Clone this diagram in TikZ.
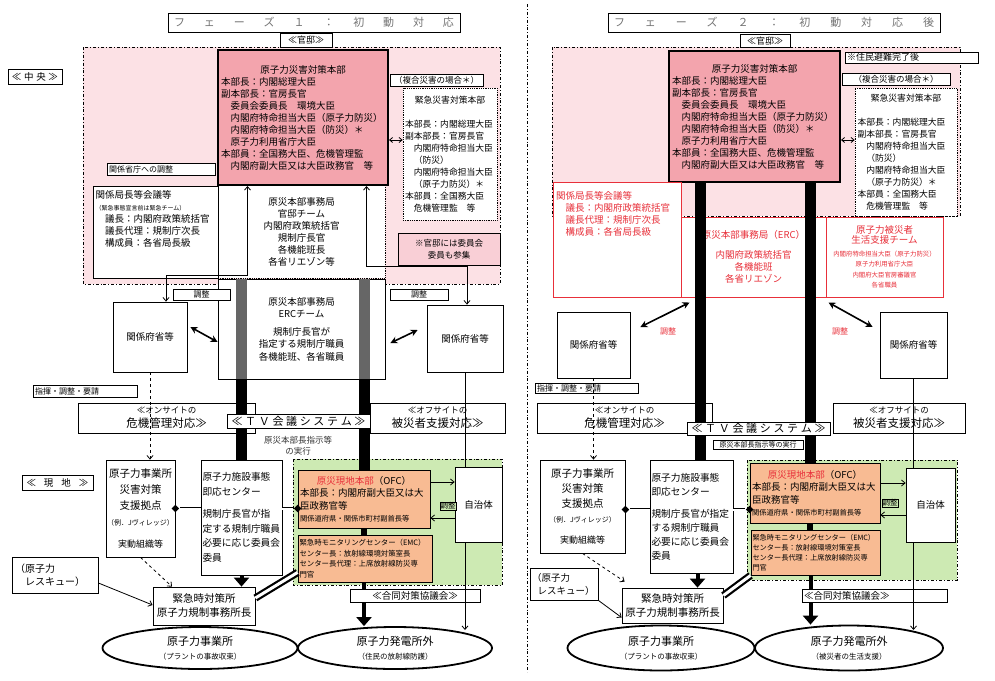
\documentclass[tikz,border=0pt]{standalone}
\usepackage{fontspec}
\setmainfont{Noto Sans CJK JP}
\usetikzlibrary{positioning, arrows.meta, shapes.geometric}
\definecolor{kanteipink}{HTML}{FCE1E5}
\definecolor{honbupink}{HTML}{F3A4AD}
\definecolor{sanshupink}{HTML}{F9CFD6}
\definecolor{genchigreen}{HTML}{CDEAB3}
\definecolor{ofcorange}{HTML}{F8BB93}
\definecolor{phasered}{HTML}{E8303A}
\newcommand{\fz}[2]{\fontsize{#1}{#2}\selectfont}

\begin{document}
\begin{tikzpicture}[x=1pt, y=-1pt, line width=0.8pt,
    box/.style={draw, fill=white, inner sep=1.5pt, align=center, font=\fz{9.5}{12}},
    sz/.style 2 args={minimum width=#1, minimum height=#2},
    tagbox/.style={draw, fill=white, inner sep=0.5pt, font=\fz{8}{9}},
    redbox/.style={draw=phasered, fill=white, text=phasered, line width=1pt, inner sep=1.5pt, align=center, font=\fz{9.5}{12}},
    region/.style={dash dot, line width=0.9pt},
    bar/.style={line width=11pt},
    lead/.style={-{Straight Barb[length=3.5pt,width=6pt]}},
    twoway/.style={{Stealth[length=7pt,width=7pt]}-{Stealth[length=7pt,width=7pt]}, line width=1.6pt},
    fat/.style={line width=4pt, -{Triangle[length=9pt,width=15pt]}},
    dbl/.style={double, double distance=2pt, line width=0.8pt},
    dbthick/.style={double, double distance=3pt, line width=2.2pt},
    dmd/.style={diamond, fill, inner sep=0pt, minimum size=8pt},
    field/.style={ellipse, draw, line width=1.8pt, fill=white, align=center, inner sep=0pt, font=\fz{11}{14}}
  ]
\useasboundingbox (0,0) rectangle (995,680);

% backgrounds
\draw[region, fill=kanteipink] (83,47) rectangle (500,284);
\draw[region, fill=genchigreen] (293,459) rectangle (502,585);
\draw[region, fill=kanteipink] (552,47) rectangle (960,216);
\draw[region, fill=genchigreen] (747,460) rectangle (957,580);
\draw[region] (527,4) -- (527,672);

% ---------------- Phase 1 ----------------
\node[draw, sz={292}{19}, inner sep=0pt, text=black!55, font=\fz{11}{12}] (hdrL) at (314,22.5)
  {\makebox[280pt][s]{フ\hfill ェ\hfill ー\hfill ズ\hfill １\hfill ：\hfill 初\hfill 動\hfill 対\hfill 応}};
\node[tagbox, sz={52}{14}, font=\fz{9}{10}] (kanteiL) at (306,40) {≪官邸≫};
\node[tagbox, sz={54}{15}, font=\fz{9.5}{10}] (chuo) at (35,77) {\makebox[46pt][s]{≪\hfill 中\hfill 央\hfill ≫}};

% kantei
\node[box, sz={167}{93}, densely dotted] (teamL) at (301.5,231.5)
  {原災本部事務局\\官邸チーム\\内閣府政策統括官\\規制庁長官\\各機能班長\\各省リエゾン等};
\node[box, sz={170}{135}, fill=honbupink, line width=2pt, align=left, text width=164pt] (hqL) at (303,117.5)
  {\hfill 原子力災害対策本部\hfill\mbox{}\\本部長：内閣総理大臣\\副本部長：官房長官\\　委員会委員長　環境大臣\\　内閣府特命担当大臣（原子力防災）\\　内閣府特命担当大臣（防災）＊\\　原子力利用省庁大臣\\本部員：全国務大臣、危機管理監\\　内閣府副大臣又は大臣政務官　等};
\node[tagbox, sz={93}{12}, font=\fz{8.5}{10}] (fukugoL) at (436.5,80) {（複合災害の場合＊）};
\node[box, sz={94}{132}, densely dotted, align=left, text width=90pt, font=\fz{8.8}{12}] (kinkyuL) at (450,154)
  {\hfill 緊急災害対策本部\hfill\mbox{}\\[12pt]本部長：内閣総理大臣\\副本部長：官房長官\\　内閣府特命担当大臣\\　（防災）\\　内閣府特命担当大臣\\　（原子力防災）＊\\本部員：全国務大臣\\　危機管理監　等};
\node[box, sz={102}{32}, fill=sanshupink, font=\fz{8.5}{12}] (sanshuL) at (449,249) {※官邸には委員会\\委員も参集};
\node[tagbox, sz={108}{12}, text width=104pt, align=left] (kanchouL) at (161,169) {関係省庁への調整};
\node[box, sz={125}{92}, align=left, text width=120pt] (kyokuchoL) at (155.5,232)
  {関係局長等会議等\\{\fz{6}{7}（緊急事態宣言前は緊急チーム）}\\　議長：内閣府政策統括官\\　議長代理：規制庁次長\\　構成員：各省局長級\\[16pt]\mbox{}};

% ERC
\node[box, sz={167}{100}, font=\fz{9.5}{12.5}] (ercL) at (301.5,329)
  {原災本部事務局\\ERCチーム\\[5pt]規制庁長官が\\指定する規制庁職員\\各機能班、各省職員};
\node[tagbox, sz={57}{11}] (chouseiL1) at (201.5,294.5) {調整};
\node[tagbox, sz={58}{11}] (chouseiL2) at (419,294.5) {調整};
\node[box, sz={74}{70}] (kfL1) at (150,337) {関係府省等};
\node[box, sz={76}{67}] (kfL2) at (465,338.5) {関係府省等};
\node[tagbox, sz={104}{12}, text width=100pt, align=left] (shikiL) at (85,391) {指揮・調整・要請};

% on-site / off-site
\node[box, sz={177}{30}, inner sep=0pt, font=\fz{11.5}{14}] (onsiteL) at (166.5,418) {{\fz{8.5}{10}≪オンサイトの}\\危機管理対応≫};
\node[box, sz={135}{30}, inner sep=0pt, font=\fz{11.5}{14}] (offsiteL) at (437.5,418) {{\fz{8.5}{10}≪オフサイトの}\\被災者支援対応≫};
\node[font=\fz{8.5}{11}, align=center, text=black!80] (jikkouL) at (298,446) {原災本部長指示等\\の実行};

% local
\node[tagbox, sz={71}{15}, font=\fz{9.5}{10}] (genchi) at (57.5,482.5) {\makebox[62pt][s]{≪\hfill 現\hfill 地\hfill ≫}};
\node[box, sz={69}{97}, inner sep=0pt, font=\fz{10.5}{16}] (shienL) at (140.5,508.5)
  {原子力事業所\\災害対策\\支援拠点\\{\fz{7}{9}（例．Jヴィレッジ）}\\[6pt]{\fz{9}{11}実動組織等}};
\node[box, sz={81}{115}, align=left, text width=78pt, inner sep=1pt, font=\fz{9.7}{14.5}] (sokuouL) at (241.5,517.5)
  {原子力施設事態\\即応センター\\[8pt]規制庁長官が指\\定する規制庁職員\\必要に応じ委員会\\委員};
\node[box, sz={132}{58}, fill=ofcorange, align=left, text width=128pt, font=\fz{9.5}{12.5}] (ofcL) at (364,499)
  {\hfill\textcolor{phasered}{原災現地本部}（OFC）\hfill\mbox{}\\本部長：内閣府副大臣又は大\\臣政務官等\\{\fz{7.3}{9}関係道府県・関係市町村副首長等}};
\node[box, sz={47}{75}] (jichiL) at (478.5,504.5) {自治体};
\node[tagbox, fill=genchigreen, font=\fz{7.5}{8}] (chouseiL3) at (448,506) {調整};
\node[box, sz={134}{47}, fill=ofcorange, align=left, text width=131pt, inner sep=1pt, font=\fz{7.4}{10.5}] (emcL) at (365,558.5)
  {緊急時モニタリングセンター（EMC）\\センター長：放射線環境対策室長\\センター長代理：上席放射線防災専\\門官};
\node[box, sz={130}{13}, inner sep=0pt] (goudouL) at (415,595.5) {≪合同対策協議会≫};
\node[box, sz={86}{36}, align=left, text width=80pt, font=\fz{10}{13}] (rescueL) at (55,575) {（原子力\\\hspace*{1em}レスキュー）};
\node[box, sz={102}{38}, font=\fz{10.5}{14}] (kinkyusyoL) at (204,606) {緊急時対策所\\原子力規制事務所長};
\node[field, sz={195}{42}] (jigyoL) at (200,648) {原子力事業所\\{\fz{7.5}{9}（プラントの事故収束）}};
\node[field, sz={194}{42}] (gaiL) at (395,648) {原子力発電所外\\{\fz{7.5}{9}（住民の放射線防護）}};
\node[dmd] (dotL1) at (shienL.east) {};
\node[dmd] (dotL2) at (ofcL.west |- dotL1) {};

% ---------------- Phase 2 ----------------
\node[draw, sz={332}{19}, inner sep=0pt, text=black!55, font=\fz{11}{12}] (hdrR) at (774,22.5)
  {\makebox[320pt][s]{フ\hfill ェ\hfill ー\hfill ズ\hfill ２\hfill ：\hfill 初\hfill 動\hfill 対\hfill 応\hfill 後}};
\node[tagbox, sz={50}{13}, font=\fz{9}{10}] (kanteiR) at (765,41) {≪官邸≫};

\node[box, sz={171}{131}, fill=honbupink, line width=2pt, align=left, text width=165pt] (hqR) at (754.5,116.5)
  {\hfill 原子力災害対策本部\hfill\mbox{}\\本部長：内閣総理大臣\\副本部長：官房長官\\　委員会委員長　環境大臣\\　内閣府特命担当大臣（原子力防災）\\　内閣府特命担当大臣（防災）＊\\　原子力利用省庁大臣\\本部員：全国務大臣、危機管理監\\　内閣府副大臣又は大臣政務官　等};
\node[tagbox, sz={133}{11}, text width=129pt, align=left, font=\fz{9}{10}] (kanryoR) at (911.5,57.5) {※住民避難完了後};
\node[tagbox, sz={108}{12}, font=\fz{8.5}{10}] (fukugoR) at (896,79) {（複合災害の場合＊）};
\node[box, sz={102}{128}, densely dotted, align=left, text width=97pt, font=\fz{8.8}{12}] (kinkyuR) at (906,152)
  {\hfill 緊急災害対策本部\hfill\mbox{}\\[12pt]本部長：内閣総理大臣\\副本部長：官房長官\\　内閣府特命担当大臣\\　（防災）\\　内閣府特命担当大臣\\　（原子力防災）＊\\本部員：全国務大臣\\　危機管理監　等};

\node[redbox, sz={128}{115}, align=left, text width=122pt] (kyokuchoR) at (617,239.5)
  {関係局長等会議等\\　議長：内閣府政策統括官\\　議長代理：規制庁次長\\　構成員：各省局長級\\[40pt]\mbox{}};
\node[redbox, sz={145}{80}] (ercR) at (753.5,257) {原災本部事務局（ERC）\\[8pt]内閣府政策統括官\\各機能班\\各省リエゾン};
\node[redbox, sz={117}{80}, inner sep=1pt, font=\fz{6.4}{10.5}] (seikatsuR) at (884.5,257)
  {{\fz{9.5}{12}原子力被災者}\\{\fz{9.5}{12}生活支援チーム}\\[2pt]内閣府特命担当大臣（原子力防災）\\原子力利用省庁大臣\\内閣府大臣官房審議官\\各省職員};

\node[box, sz={73}{66}] (kfR1) at (593.5,345) {関係府省等};
\node[box, sz={67}{66}] (kfR2) at (913.5,345) {関係府省等};
\node[text=phasered, font=\fz{8}{9}] (chouseiR1) at (668,331) {調整};
\node[text=phasered, font=\fz{8}{9}] (chouseiR2) at (840,331) {調整};
\node[tagbox, sz={103}{10}, text width=99pt, align=left] (shikiR) at (586.5,388) {指揮・調整・要請};

\node[box, sz={175}{30}, inner sep=0pt, font=\fz{11.5}{14}] (onsiteR) at (624.5,418) {{\fz{8.5}{10}≪オンサイトの}\\危機管理対応≫};
\node[box, sz={132}{30}, inner sep=0pt, font=\fz{11.5}{14}] (offsiteR) at (899,418) {{\fz{8.5}{10}≪オフサイトの}\\被災者支援対応≫};
\node[tagbox, sz={90}{9}, font=\fz{7}{8}] (jikkouR) at (758,444.5) {原災本部長指示等の実行};

\node[box, sz={85}{93}, inner sep=0pt, font=\fz{10.5}{15}] (shienR) at (582.5,506.5)
  {原子力事業所\\災害対策\\支援拠点\\{\fz{7}{9}（例．Jヴィレッジ）}\\[6pt]{\fz{9}{11}実動組織等}};
\node[box, sz={83}{113}, align=left, text width=80pt, inner sep=1pt, font=\fz{9.7}{14}] (sokuouR) at (691.5,516.5)
  {原子力施設事態\\即応センター\\[8pt]規制庁長官が指定\\する規制庁職員\\必要に応じ委員会\\委員};
\node[box, sz={130}{60}, fill=ofcorange, align=left, text width=126pt, font=\fz{9.5}{12.5}] (ofcR) at (815,493)
  {\hfill\textcolor{phasered}{原災現地本部}（OFC）\hfill\mbox{}\\本部長：内閣府副大臣又は大\\臣政務官等\\{\fz{7.3}{9}関係道府県・関係市町村副首長等}};
\node[box, sz={49}{74}] (jichiR) at (930.5,505) {自治体};
\node[tagbox, fill=genchigreen, font=\fz{7.5}{8}] (chouseiR3) at (890,503) {調整};
\node[box, sz={129}{45}, fill=ofcorange, align=left, text width=126pt, inner sep=1pt, font=\fz{7.2}{10.2}] (emcR) at (815.5,552.5)
  {緊急時モニタリングセンター（EMC）\\センター長：放射線環境対策室長\\センター長代理：上席放射線防災専\\門官};
\node[box, sz={145}{13}, inner sep=0pt, text width=141pt, align=left] (goudouR) at (874.5,595.5) {≪合同対策協議会≫};
\node[box, sz={68}{32}, align=left, text width=64pt, font=\fz{9.5}{13}] (rescueR) at (564,584) {（原子力\\\hspace*{0.6em}レスキュー）};
\node[box, sz={101}{35}, font=\fz{10.5}{14}] (kinkyusyoR) at (672.5,605.5) {緊急時対策所\\原子力規制事務所長};
\node[field, sz={187}{45}] (jigyoR) at (661,648) {原子力事業所\\{\fz{7.5}{9}（プラントの事故収束）}};
\node[field, sz={188}{45}] (gaiR) at (849,648) {原子力発電所外\\{\fz{7.5}{9}（被災者の生活支援）}};
\node[dmd] (dotR1) at ([yshift=-3pt]shienR.east) {};
\node[dmd] (dotR2) at (ofcR.west |- dotR1) {};

% ---------------- connectors, phase 1 ----------------
\coordinate (bendL) at (166,275);
\coordinate (bendR) at (467,266);
\draw[{Straight Barb[length=3.5pt,width=6pt]}-{Straight Barb[length=3.5pt,width=6pt]}]
  ([xshift=-55.5pt]hqL.south) |- (bendL) -- ([xshift=16pt]kfL1.north);
\draw[{Straight Barb[length=3.5pt,width=6pt]}-{Straight Barb[length=3.5pt,width=6pt]}]
  ([xshift=63.5pt]hqL.south) |- (bendR) -- (kfL2.north -| bendR);
\draw[{Straight Barb[length=3pt,width=5pt]}-{Straight Barb[length=3pt,width=5pt]}]
  ([yshift=14pt]kinkyuL.west -| hqL.east) -- ([yshift=14pt]kinkyuL.west);
\draw[twoway] ([shift={(3pt,10pt)}]kfL1.east) -- ([yshift=-13pt]ercL.west);
\draw[twoway] ([shift={(5pt,-14pt)}]ercL.east) -- ([shift={(-9pt,8.5pt)}]kfL2.west);

% TV lines
\draw[bar, black!60] ([xshift=-60.5pt]ercL.north) -- ([xshift=-60.5pt]ercL.south);
\draw[bar] ([xshift=-60.5pt]ercL.south) -- ([xshift=-60.5pt]ercL.south |- sokuouL.north);
\draw[bar, black!60] ([xshift=62.5pt]ercL.north) -- ([xshift=62.5pt]ercL.south);
\draw[bar] ([xshift=62.5pt]ercL.south) -- ([xshift=62.5pt]ercL.south |- ofcL.north);
\draw[line width=6pt] (ofcL.south) -- (ofcL.south |- emcL.north);
\draw[line width=4pt] (ofcL.south |- emcL.south) -- (ofcL.south |- goudouL.north);
\draw[fat] (ofcL.south |- goudouL.south) -- (ofcL.south |- gaiL.north);
\draw[fat] (sokuouL.south) -- (sokuouL.south |- kinkyusyoL.north);
\node[draw, fill=white, sz={143}{14}, inner sep=0pt, font=\fz{11}{12}] (tvL) at (298.5,421)
  {\makebox[134pt][s]{≪\hfill Ｔ\hfill Ｖ\hfill 会\hfill 議\hfill シ\hfill ス\hfill テ\hfill ム\hfill ≫}};

\draw[dashed, lead] (kfL1.south) -- (kfL1.south |- shienL.north);
\draw (kfL2.south) -- (kfL2.south |- jichiL.north);
\coordinate (gaiLin) at (465,630);
\draw[lead] (kfL2.south |- jichiL.south) -- (gaiLin);
\draw[lead] ([yshift=17pt]ofcL.east) -- ([yshift=17pt]ofcL.east -| jichiL.west);
\draw[lead] ([yshift=-19pt]ofcL.east -| jichiL.west) -- ([yshift=-19pt]ofcL.east);
\draw[dbl] (dotL1) -- (dotL1 -| sokuouL.west);
\draw[dbl] (dotL2 -| sokuouL.east) -- (dotL2);
\draw[dbthick] ([yshift=10pt]emcL.south west) -- ([yshift=8pt]kinkyusyoL.east);
\draw[dashed, lead] (shienL.south) -- ([xshift=-32pt]kinkyusyoL.north);
\draw[lead] ([yshift=-8pt]rescueL.east) -- ([yshift=1pt]kinkyusyoL.west);

% ---------------- connectors, phase 2 ----------------
\draw[{Straight Barb[length=3pt,width=5pt]}-{Straight Barb[length=3pt,width=5pt]}]
  ([yshift=12pt]kinkyuR.west -| hqR.east) -- ([yshift=12pt]kinkyuR.west);
\draw[twoway] ([shift={(9pt,-5pt)}]ercR.south west) -- ([shift={(10pt,18pt)}]kfR1.east);
\draw[twoway] ([shift={(2pt,-5pt)}]ercR.south east) -- ([shift={(-7pt,18pt)}]kfR2.west);

\draw[bar] ([xshift=-54.5pt]hqR.south) -- ([xshift=-54.5pt]hqR.south |- sokuouR.north);
\draw[bar] ([xshift=55.5pt]hqR.south) -- ([xshift=55.5pt]hqR.south |- ofcR.north);
\draw[line width=6pt] ([xshift=-5pt]ofcR.south) -- ([xshift=-5pt]ofcR.south |- emcR.north);
\draw[line width=4pt] ([xshift=-5pt]emcR.south) -- ([xshift=-5pt]emcR.south |- goudouR.north);
\draw[fat] ([xshift=-5pt]emcR.south |- goudouR.south) -- ([xshift=-5pt]emcR.south |- gaiR.north);
\draw[fat] ([xshift=6pt]sokuouR.south) -- ([xshift=6pt]sokuouR.south |- kinkyusyoR.north);
\node[draw, fill=white, sz={143}{13}, inner sep=0pt, font=\fz{11}{12}] (tvR) at (758.5,428.5)
  {\makebox[134pt][s]{≪\hfill Ｔ\hfill Ｖ\hfill 会\hfill 議\hfill シ\hfill ス\hfill テ\hfill ム\hfill ≫}};

\draw[dashed, lead] (kfR1.south) -- (kfR1.south |- shienR.north);
\draw (kfR2.south) -- (kfR2.south |- jichiR.north);
\coordinate (gaiRin) at (913.5,630);
\draw[lead] (kfR2.south |- jichiR.south) -- (gaiRin);
\draw[lead] ([yshift=10pt]ofcR.east) -- ([yshift=10pt]ofcR.east -| jichiR.west);
\draw[lead] ([yshift=-22pt]ofcR.east -| jichiR.west) -- ([yshift=-22pt]ofcR.east);
\draw[dbl] (dotR1) -- (dotR1 -| sokuouR.west);
\draw[dbl] (dotR2 -| sokuouR.east) -- (dotR2);
\draw[dbthick] (emcR.south west) -- ([yshift=10pt]kinkyusyoR.east);
\draw[dashed, lead] (shienR.south) -- ([shift={(3pt,6pt)}]kinkyusyoR.north west);
\draw[lead] (rescueR.south east) -- ([yshift=-12pt]kinkyusyoR.west);
\end{tikzpicture}
\end{document}
